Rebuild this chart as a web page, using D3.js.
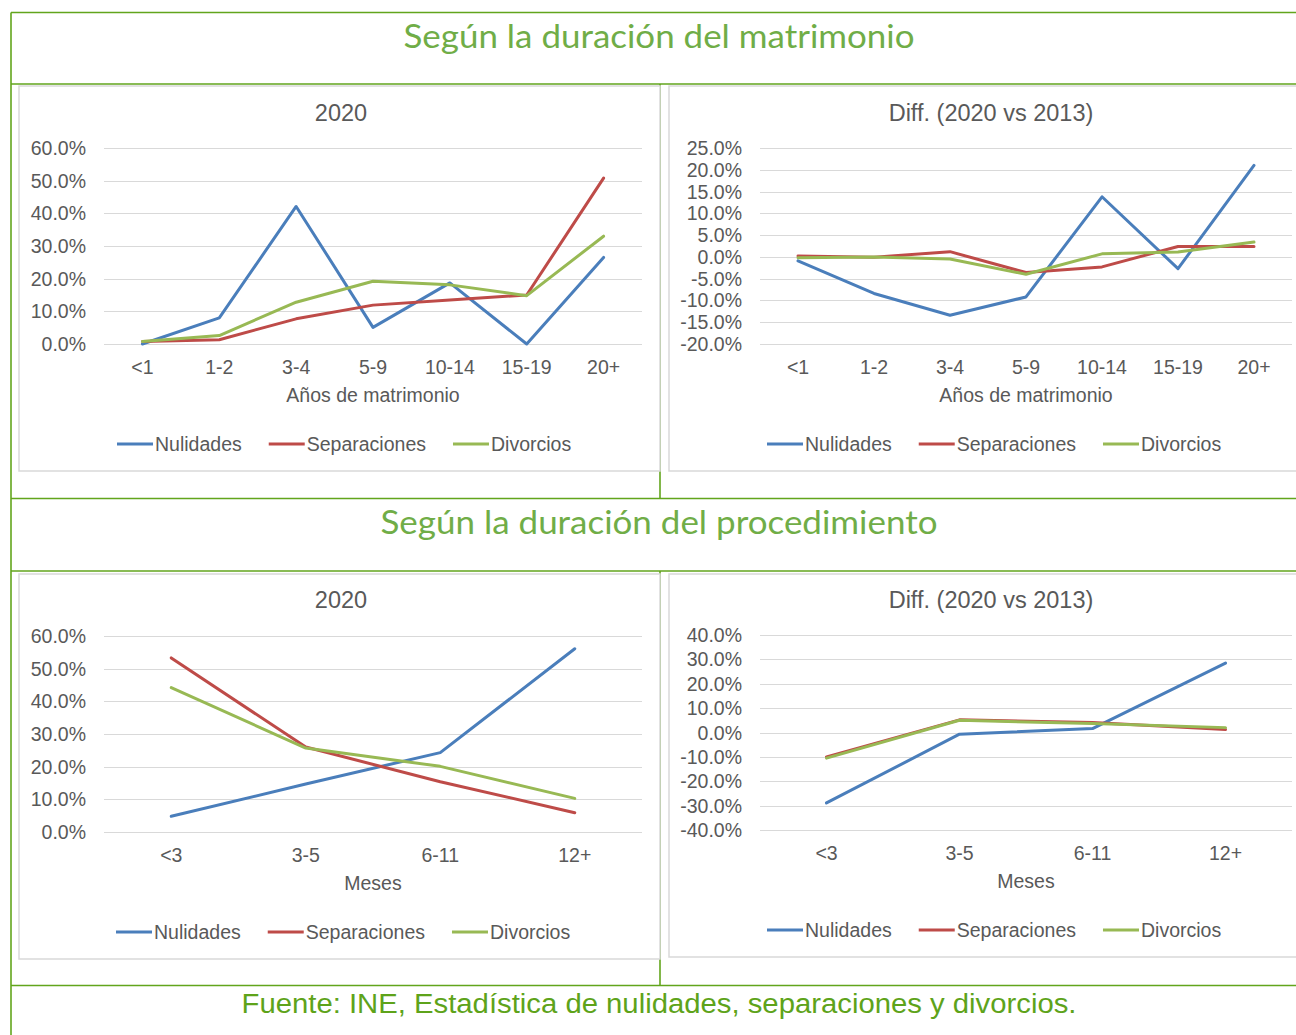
<!DOCTYPE html>
<html>
<head>
<meta charset="utf-8">
<script src="https://cdnjs.cloudflare.com/ajax/libs/d3/7.8.5/d3.min.js"></script>
<style>
  body { margin: 0; background: #fff; }
  svg { display: block; }
  .chart text { font-family: "Liberation Sans", Arial, sans-serif; fill: #595959; }
</style>
</head>
<body>
<svg id="fig" width="1296" height="1035"></svg>
<script>
// categories
const yearsCats = ["<1", "1-2", "3-4", "5-9", "10-14", "15-19", "20+"];
const monthsCats = ["<3", "3-5", "6-11", "12+"];
const seriesNames = ["Nulidades", "Separaciones", "Divorcios"];
const seriesColors = ["#4a7ebb", "#be4b48", "#98b954"];

// Según la duración del matrimonio, 2020 (share)
const years2020Nul = [0.000, 0.080, 0.421, 0.051, 0.187, 0.000, 0.265];
const years2020Sep = [0.008, 0.013, 0.077, 0.119, 0.135, 0.150, 0.508];
const years2020Div = [0.008, 0.026, 0.128, 0.192, 0.181, 0.148, 0.330];

// Según la duración del matrimonio, diff 2020 vs 2013
const yearsDiffNul = [-0.009, -0.084, -0.134, -0.092, 0.138, -0.027, 0.210];
const yearsDiffSep = [0.002, -0.001, 0.012, -0.036, -0.023, 0.024, 0.024];
const yearsDiffDiv = [-0.002, 0.000, -0.005, -0.040, 0.007, 0.011, 0.034];

// Según la duración del procedimiento, 2020
const months2020Nul = [0.048, 0.147, 0.243, 0.561];
const months2020Sep = [0.533, 0.260, 0.154, 0.059];
const months2020Div = [0.442, 0.257, 0.201, 0.103];

// Según la duración del procedimiento, diff 2020 vs 2013
const monthsDiffNul = [-0.289, -0.007, 0.016, 0.285];
const monthsDiffSep = [-0.100, 0.052, 0.041, 0.012];
const monthsDiffDiv = [-0.105, 0.050, 0.037, 0.020];

const yTicks2020 = [0, 0.1, 0.2, 0.3, 0.4, 0.5, 0.6];
const yTicksYearsDiff = [-0.20, -0.15, -0.10, -0.05, 0, 0.05, 0.10, 0.15, 0.20, 0.25];
const yTicksMonthsDiff = [-0.4, -0.3, -0.2, -0.1, 0, 0.1, 0.2, 0.3, 0.4];

const svg = d3.select("#fig");
const green = "#62a51c";

// plain hyphen for negatives, like the spreadsheet
const pct = d3.formatLocale({ decimal: ".", thousands: ",", grouping: [3], currency: ["", ""], minus: "-" })
  .format(".1%");

// outer table frame
const frame = svg.append("g").attr("stroke", green).attr("stroke-width", 1.6);
[[11, 12.5, 1296, 12.5], [11, 84, 1296, 84], [11, 498.5, 1296, 498.5],
 [11, 571, 1296, 571], [11, 985.5, 1296, 985.5],
 [11, 12.5, 11, 1035], [660, 84, 660, 498.5], [660, 571, 660, 985.5]]
  .forEach(l => frame.append("line").attr("x1", l[0]).attr("y1", l[1]).attr("x2", l[2]).attr("y2", l[3]));

// headings
function heading(txt, x, y, len, size, font, color) {
  svg.append("text").attr("x", x).attr("y", y).attr("text-anchor", "middle")
    .attr("font-family", font).attr("font-size", size).attr("fill", color)
    .attr("textLength", len).attr("lengthAdjust", "spacingAndGlyphs").text(txt);
}
heading("Según la duración del matrimonio", 659, 48, 511, 33, "Lato, 'Open Sans', sans-serif", "#70ad47");
heading("Según la duración del procedimiento", 659, 534, 557, 33, "Lato, 'Open Sans', sans-serif", "#70ad47");
heading("Fuente: INE, Estadística de nulidades, separaciones y divorcios.", 659, 1013, 835, 27,
  "'Liberation Sans', Arial, sans-serif", "#5ea31a");

function drawChart(cfg) {
  const g = svg.append("g").attr("class", "chart");
  g.append("rect").attr("x", cfg.box[0]).attr("y", cfg.box[1])
    .attr("width", cfg.box[2] - cfg.box[0]).attr("height", cfg.box[3] - cfg.box[1])
    .attr("fill", "#fff").attr("stroke", "#d9d9d9").attr("stroke-width", 1.5);

  const x = d3.scaleBand().domain(cfg.cats).range(cfg.xRange);
  const y = d3.scaleLinear().domain(cfg.yDomain).range(cfg.yRange);

  // title
  g.append("text").attr("x", cfg.titleX).attr("y", cfg.titleY).attr("text-anchor", "middle")
    .attr("dominant-baseline", "central").attr("font-size", 23.5).text(cfg.title);

  // gridlines
  g.append("g").selectAll("line").data(cfg.ticks).join("line")
    .attr("x1", cfg.xRange[0]).attr("x2", cfg.xRange[1])
    .attr("y1", d => Math.round(y(d)) + 0.5).attr("y2", d => Math.round(y(d)) + 0.5)
    .attr("stroke", "#d9d9d9").attr("stroke-width", 1);

  // y labels
  g.append("g").selectAll("text").data(cfg.ticks).join("text")
    .attr("x", cfg.yLabelX).attr("y", d => y(d)).attr("text-anchor", "end")
    .attr("dominant-baseline", "central").attr("font-size", 19.5).text(d => pct(d));

  // x labels
  g.append("g").selectAll("text").data(cfg.cats).join("text")
    .attr("x", d => x(d) + x.bandwidth() / 2).attr("y", cfg.xLabelY).attr("text-anchor", "middle")
    .attr("dominant-baseline", "central").attr("font-size", 19.5).text(d => d);

  // axis title
  g.append("text").attr("x", (cfg.xRange[0] + cfg.xRange[1]) / 2).attr("y", cfg.axisTitleY)
    .attr("text-anchor", "middle").attr("dominant-baseline", "central")
    .attr("font-size", 19.5).text(cfg.axisTitle);

  // lines
  const line = d3.line().x((d, i) => x(cfg.cats[i]) + x.bandwidth() / 2).y(d => y(d));
  cfg.series.forEach((s, i) => {
    g.append("path").datum(s).attr("d", line).attr("fill", "none")
      .attr("stroke", seriesColors[i]).attr("stroke-width", 3)
      .attr("stroke-linejoin", "round").attr("stroke-linecap", "round");
  });

  // legend
  let lx = cfg.legendX;
  seriesNames.forEach((name, i) => {
    g.append("line").attr("x1", lx).attr("x2", lx + 36).attr("y1", cfg.legendY).attr("y2", cfg.legendY)
      .attr("stroke", seriesColors[i]).attr("stroke-width", 3);
    const t = g.append("text").attr("x", lx + 38).attr("y", cfg.legendY)
      .attr("dominant-baseline", "central").attr("font-size", 19.5).text(name);
    lx += 38 + t.node().getComputedTextLength() + 27;
  });
}

drawChart({
  box: [19, 86, 660, 471], cats: yearsCats, xRange: [104, 642],
  yDomain: [0, 0.6], yRange: [344, 148], ticks: yTicks2020, yLabelX: 86,
  title: "2020", titleX: 341, titleY: 113, xLabelY: 367,
  axisTitle: "Años de matrimonio", axisTitleY: 395, legendX: 117, legendY: 444,
  series: [years2020Nul, years2020Sep, years2020Div]
});

drawChart({
  box: [669, 86, 1300, 471], cats: yearsCats, xRange: [760, 1292],
  yDomain: [-0.2, 0.25], yRange: [344, 148], ticks: yTicksYearsDiff, yLabelX: 742,
  title: "Diff. (2020 vs 2013)", titleX: 991, titleY: 113, xLabelY: 367,
  axisTitle: "Años de matrimonio", axisTitleY: 395, legendX: 767, legendY: 444,
  series: [yearsDiffNul, yearsDiffSep, yearsDiffDiv]
});

drawChart({
  box: [19, 574, 660, 959], cats: monthsCats, xRange: [104, 642],
  yDomain: [0, 0.6], yRange: [832, 636], ticks: yTicks2020, yLabelX: 86,
  title: "2020", titleX: 341, titleY: 600, xLabelY: 855,
  axisTitle: "Meses", axisTitleY: 883, legendX: 116, legendY: 932,
  series: [months2020Nul, months2020Sep, months2020Div]
});

drawChart({
  box: [669, 574, 1300, 957], cats: monthsCats, xRange: [760, 1292],
  yDomain: [-0.4, 0.4], yRange: [830, 635], ticks: yTicksMonthsDiff, yLabelX: 742,
  title: "Diff. (2020 vs 2013)", titleX: 991, titleY: 600, xLabelY: 853,
  axisTitle: "Meses", axisTitleY: 881, legendX: 767, legendY: 930,
  series: [monthsDiffNul, monthsDiffSep, monthsDiffDiv]
});
</script>
</body>
</html>
